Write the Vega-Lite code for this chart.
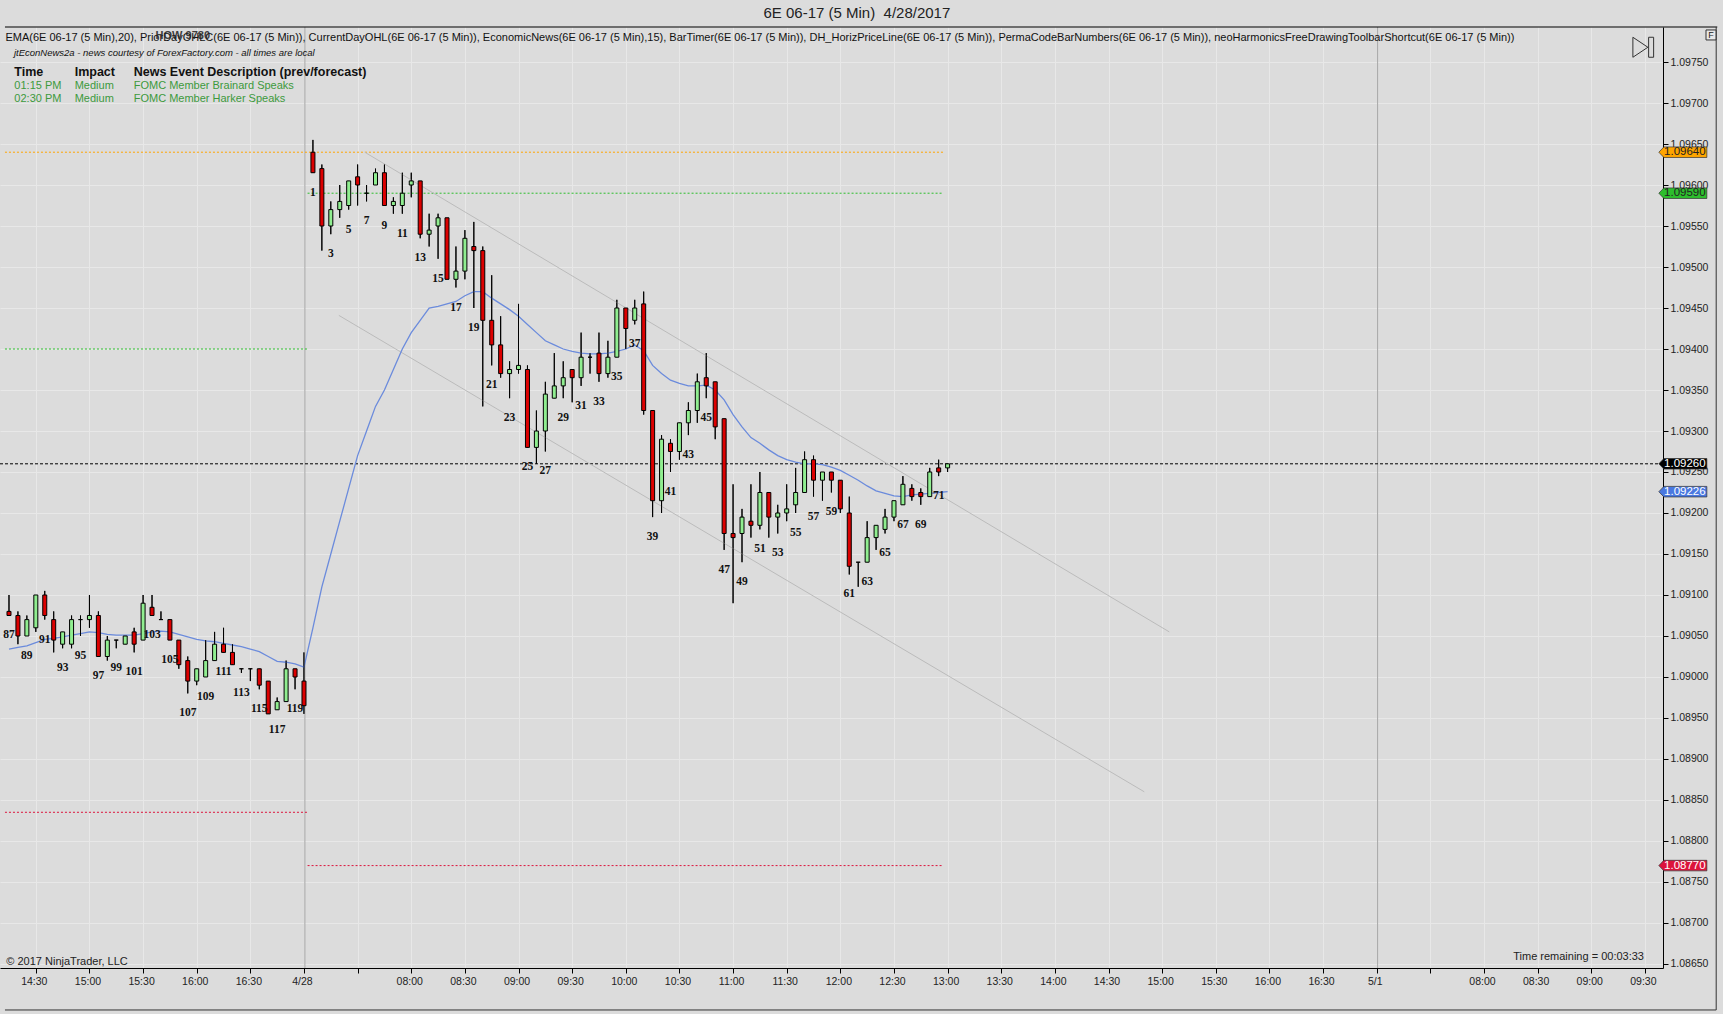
{
  "$schema": "https://vega.github.io/schema/vega-lite/v6.json",
  "width": 1663,
  "height": 941,
  "autosize": "none",
  "padding": {"left": 0, "top": 27, "right": 60, "bottom": 46},
  "background": "#DCDCDC",
  "datasets": {
    "bars": [
      {"n": 87, "s": -3, "o": 1.0908, "h": 1.091, "l": 1.09075, "c": 1.09075, "e": 1.09034},
      {"n": 88, "s": -2, "o": 1.09075, "h": 1.0908, "l": 1.0904, "c": 1.0905, "e": 1.09036},
      {"n": 89, "s": -1, "o": 1.0905, "h": 1.09075, "l": 1.0905, "c": 1.0907, "e": 1.09038},
      {"n": 90, "s": 0, "o": 1.0906, "h": 1.091, "l": 1.09055, "c": 1.091, "e": 1.09042},
      {"n": 91, "s": 1, "o": 1.091, "h": 1.09105, "l": 1.0907, "c": 1.09075, "e": 1.09046},
      {"n": 92, "s": 2, "o": 1.0907, "h": 1.0908, "l": 1.0903, "c": 1.09045, "e": 1.09047},
      {"n": 93, "s": 3, "o": 1.0904, "h": 1.09055, "l": 1.09035, "c": 1.09055, "e": 1.09049},
      {"n": 94, "s": 4, "o": 1.0904, "h": 1.09075, "l": 1.09035, "c": 1.0907, "e": 1.09051},
      {"n": 95, "s": 5, "o": 1.0907, "h": 1.09075, "l": 1.0905, "c": 1.0907, "e": 1.09053},
      {"n": 96, "s": 6, "o": 1.0907, "h": 1.091, "l": 1.0906, "c": 1.09075, "e": 1.09055},
      {"n": 97, "s": 7, "o": 1.09075, "h": 1.0908, "l": 1.09025, "c": 1.09025, "e": 1.09054},
      {"n": 98, "s": 8, "o": 1.09025, "h": 1.0905, "l": 1.0902, "c": 1.09045, "e": 1.09052},
      {"n": 99, "s": 9, "o": 1.09045, "h": 1.09045, "l": 1.09035, "c": 1.09045, "e": 1.09051},
      {"n": 100, "s": 10, "o": 1.0904, "h": 1.0905, "l": 1.0904, "c": 1.0905, "e": 1.09051},
      {"n": 101, "s": 11, "o": 1.09055, "h": 1.0906, "l": 1.0903, "c": 1.0904, "e": 1.09051},
      {"n": 102, "s": 12, "o": 1.09045, "h": 1.091, "l": 1.09045, "c": 1.0909, "e": 1.09053},
      {"n": 103, "s": 13, "o": 1.09085, "h": 1.091, "l": 1.09075, "c": 1.09075, "e": 1.09055},
      {"n": 104, "s": 14, "o": 1.0907, "h": 1.0908, "l": 1.0907, "c": 1.0907, "e": 1.09056},
      {"n": 105, "s": 15, "o": 1.0907, "h": 1.0907, "l": 1.09045, "c": 1.09045, "e": 1.09055},
      {"n": 106, "s": 16, "o": 1.09045, "h": 1.09045, "l": 1.0901, "c": 1.09015, "e": 1.09052},
      {"n": 107, "s": 17, "o": 1.0902, "h": 1.09025, "l": 1.0898, "c": 1.08995, "e": 1.09049},
      {"n": 108, "s": 18, "o": 1.08995, "h": 1.0901, "l": 1.0899, "c": 1.0901, "e": 1.09046},
      {"n": 109, "s": 19, "o": 1.09, "h": 1.09045, "l": 1.09, "c": 1.0902, "e": 1.09044},
      {"n": 110, "s": 20, "o": 1.0902, "h": 1.09055, "l": 1.0902, "c": 1.0904, "e": 1.09043},
      {"n": 111, "s": 21, "o": 1.0904, "h": 1.0906, "l": 1.0903, "c": 1.0903, "e": 1.09041},
      {"n": 112, "s": 22, "o": 1.0903, "h": 1.0904, "l": 1.09015, "c": 1.09015, "e": 1.09039},
      {"n": 113, "s": 23, "o": 1.0901, "h": 1.0901, "l": 1.09005, "c": 1.0901, "e": 1.09037},
      {"n": 114, "s": 24, "o": 1.0901, "h": 1.0901, "l": 1.08995, "c": 1.0901, "e": 1.09034},
      {"n": 115, "s": 25, "o": 1.0901, "h": 1.0901, "l": 1.08985, "c": 1.0899, "e": 1.09031},
      {"n": 116, "s": 26, "o": 1.08995, "h": 1.08995, "l": 1.08955, "c": 1.08955, "e": 1.09025},
      {"n": 117, "s": 27, "o": 1.0896, "h": 1.08975, "l": 1.0896, "c": 1.0897, "e": 1.09019},
      {"n": 118, "s": 28, "o": 1.0897, "h": 1.0902, "l": 1.0897, "c": 1.0901, "e": 1.09018},
      {"n": 119, "s": 29, "o": 1.0901, "h": 1.0901, "l": 1.08985, "c": 1.09, "e": 1.09016},
      {"n": 120, "s": 30, "o": 1.08995, "h": 1.0903, "l": 1.08955, "c": 1.08965, "e": 1.09012},
      {"n": 1, "s": 31, "o": 1.0964, "h": 1.09655, "l": 1.09615, "c": 1.09615, "e": 1.0906},
      {"n": 2, "s": 32, "o": 1.0962, "h": 1.09625, "l": 1.0952, "c": 1.0955, "e": 1.0911},
      {"n": 3, "s": 33, "o": 1.0955, "h": 1.0958, "l": 1.0954, "c": 1.0957, "e": 1.0915},
      {"n": 4, "s": 34, "o": 1.0957, "h": 1.096, "l": 1.0956, "c": 1.0958, "e": 1.0919},
      {"n": 5, "s": 35, "o": 1.09575, "h": 1.09605, "l": 1.0957, "c": 1.09605, "e": 1.0923},
      {"n": 6, "s": 36, "o": 1.0961, "h": 1.09625, "l": 1.09575, "c": 1.096, "e": 1.0927},
      {"n": 7, "s": 37, "o": 1.0959, "h": 1.096, "l": 1.0958, "c": 1.0959, "e": 1.093},
      {"n": 8, "s": 38, "o": 1.096, "h": 1.0962, "l": 1.096, "c": 1.09615, "e": 1.0933},
      {"n": 9, "s": 39, "o": 1.09615, "h": 1.09625, "l": 1.09575, "c": 1.09575, "e": 1.0935},
      {"n": 10, "s": 40, "o": 1.09575, "h": 1.09585, "l": 1.09565, "c": 1.0958, "e": 1.09375},
      {"n": 11, "s": 41, "o": 1.09575, "h": 1.09615, "l": 1.09565, "c": 1.0959, "e": 1.094},
      {"n": 12, "s": 42, "o": 1.096, "h": 1.09615, "l": 1.09585, "c": 1.09605, "e": 1.0942},
      {"n": 13, "s": 43, "o": 1.09605, "h": 1.09605, "l": 1.09535, "c": 1.0954, "e": 1.09435},
      {"n": 14, "s": 44, "o": 1.0954, "h": 1.09565, "l": 1.09525, "c": 1.09545, "e": 1.0945},
      {"n": 15, "s": 45, "o": 1.0955, "h": 1.09565, "l": 1.0951, "c": 1.0956, "e": 1.09452},
      {"n": 16, "s": 46, "o": 1.0956, "h": 1.0956, "l": 1.09485, "c": 1.09485, "e": 1.09455},
      {"n": 17, "s": 47, "o": 1.09485, "h": 1.09525, "l": 1.09475, "c": 1.09495, "e": 1.09458},
      {"n": 18, "s": 48, "o": 1.09495, "h": 1.09545, "l": 1.09485, "c": 1.09535, "e": 1.09465},
      {"n": 19, "s": 49, "o": 1.09525, "h": 1.09555, "l": 1.0945, "c": 1.0952, "e": 1.0947},
      {"n": 20, "s": 50, "o": 1.0952, "h": 1.09525, "l": 1.0933, "c": 1.09435, "e": 1.0947},
      {"n": 21, "s": 51, "o": 1.09435, "h": 1.0949, "l": 1.0938, "c": 1.09405, "e": 1.09462},
      {"n": 22, "s": 52, "o": 1.09405, "h": 1.0944, "l": 1.09365, "c": 1.0937, "e": 1.09455},
      {"n": 23, "s": 53, "o": 1.0937, "h": 1.09385, "l": 1.0934, "c": 1.09375, "e": 1.09448},
      {"n": 24, "s": 54, "o": 1.09375, "h": 1.09455, "l": 1.0937, "c": 1.0938, "e": 1.0944},
      {"n": 25, "s": 55, "o": 1.09375, "h": 1.0938, "l": 1.0928, "c": 1.0928, "e": 1.0943},
      {"n": 26, "s": 56, "o": 1.0928, "h": 1.09325, "l": 1.0926, "c": 1.093, "e": 1.0942},
      {"n": 27, "s": 57, "o": 1.093, "h": 1.0936, "l": 1.09275, "c": 1.09345, "e": 1.0941},
      {"n": 28, "s": 58, "o": 1.0934, "h": 1.09395, "l": 1.0934, "c": 1.09355, "e": 1.09405},
      {"n": 29, "s": 59, "o": 1.09355, "h": 1.09385, "l": 1.0934, "c": 1.09365, "e": 1.094},
      {"n": 30, "s": 60, "o": 1.09375, "h": 1.09375, "l": 1.09335, "c": 1.09365, "e": 1.09397},
      {"n": 31, "s": 61, "o": 1.09365, "h": 1.0942, "l": 1.09355, "c": 1.0939, "e": 1.09395},
      {"n": 32, "s": 62, "o": 1.0939, "h": 1.09395, "l": 1.0937, "c": 1.0939, "e": 1.09394},
      {"n": 33, "s": 63, "o": 1.09395, "h": 1.0942, "l": 1.0936, "c": 1.0937, "e": 1.09394},
      {"n": 34, "s": 64, "o": 1.0937, "h": 1.0941, "l": 1.09365, "c": 1.0939, "e": 1.09395},
      {"n": 35, "s": 65, "o": 1.0939, "h": 1.0946, "l": 1.0939, "c": 1.0945, "e": 1.09397},
      {"n": 36, "s": 66, "o": 1.0945, "h": 1.0945, "l": 1.094, "c": 1.09425, "e": 1.094},
      {"n": 37, "s": 67, "o": 1.09435, "h": 1.0946, "l": 1.0943, "c": 1.0945, "e": 1.09405},
      {"n": 38, "s": 68, "o": 1.09455, "h": 1.0947, "l": 1.0932, "c": 1.09325, "e": 1.09398},
      {"n": 39, "s": 69, "o": 1.09325, "h": 1.09325, "l": 1.09195, "c": 1.09215, "e": 1.0938},
      {"n": 40, "s": 70, "o": 1.09215, "h": 1.09295, "l": 1.092, "c": 1.0929, "e": 1.0937},
      {"n": 41, "s": 71, "o": 1.09285, "h": 1.0929, "l": 1.0925, "c": 1.09275, "e": 1.09362},
      {"n": 42, "s": 72, "o": 1.09275, "h": 1.0931, "l": 1.09265, "c": 1.0931, "e": 1.09358},
      {"n": 43, "s": 73, "o": 1.0931, "h": 1.09335, "l": 1.09295, "c": 1.09325, "e": 1.09355},
      {"n": 44, "s": 74, "o": 1.09325, "h": 1.0937, "l": 1.0931, "c": 1.0936, "e": 1.09355},
      {"n": 45, "s": 75, "o": 1.09365, "h": 1.09395, "l": 1.0934, "c": 1.09355, "e": 1.09356},
      {"n": 46, "s": 76, "o": 1.0936, "h": 1.0936, "l": 1.0929, "c": 1.09305, "e": 1.0935},
      {"n": 47, "s": 77, "o": 1.09315, "h": 1.09315, "l": 1.09155, "c": 1.09175, "e": 1.09338},
      {"n": 48, "s": 78, "o": 1.09175, "h": 1.09235, "l": 1.0909, "c": 1.0917, "e": 1.0932},
      {"n": 49, "s": 79, "o": 1.09175, "h": 1.09205, "l": 1.0914, "c": 1.09195, "e": 1.09305},
      {"n": 50, "s": 80, "o": 1.0919, "h": 1.09235, "l": 1.0917, "c": 1.09185, "e": 1.09292},
      {"n": 51, "s": 81, "o": 1.09185, "h": 1.0925, "l": 1.0918, "c": 1.09225, "e": 1.09285},
      {"n": 52, "s": 82, "o": 1.09225, "h": 1.09225, "l": 1.0917, "c": 1.09195, "e": 1.09277},
      {"n": 53, "s": 83, "o": 1.09195, "h": 1.0921, "l": 1.09175, "c": 1.092, "e": 1.0927},
      {"n": 54, "s": 84, "o": 1.092, "h": 1.09235, "l": 1.0919, "c": 1.09205, "e": 1.09265},
      {"n": 55, "s": 85, "o": 1.0921, "h": 1.09255, "l": 1.092, "c": 1.09225, "e": 1.09262},
      {"n": 56, "s": 86, "o": 1.09225, "h": 1.09275, "l": 1.09225, "c": 1.09265, "e": 1.0926},
      {"n": 57, "s": 87, "o": 1.09265, "h": 1.0927, "l": 1.0922, "c": 1.0924, "e": 1.0926},
      {"n": 58, "s": 88, "o": 1.0924, "h": 1.0925, "l": 1.09215, "c": 1.0925, "e": 1.09259},
      {"n": 59, "s": 89, "o": 1.0925, "h": 1.0925, "l": 1.09225, "c": 1.0924, "e": 1.09256},
      {"n": 60, "s": 90, "o": 1.0924, "h": 1.0924, "l": 1.092, "c": 1.09205, "e": 1.09252},
      {"n": 61, "s": 91, "o": 1.092, "h": 1.0922, "l": 1.09125, "c": 1.09135, "e": 1.09246},
      {"n": 62, "s": 92, "o": 1.0914, "h": 1.0914, "l": 1.0911, "c": 1.0914, "e": 1.0924},
      {"n": 63, "s": 93, "o": 1.0914, "h": 1.0919, "l": 1.0914, "c": 1.0917, "e": 1.09233},
      {"n": 64, "s": 94, "o": 1.0917, "h": 1.09185, "l": 1.09155, "c": 1.09185, "e": 1.09227},
      {"n": 65, "s": 95, "o": 1.0918, "h": 1.09205, "l": 1.09175, "c": 1.09195, "e": 1.09224},
      {"n": 66, "s": 96, "o": 1.09195, "h": 1.09215, "l": 1.0919, "c": 1.09215, "e": 1.09221},
      {"n": 67, "s": 97, "o": 1.0921, "h": 1.09245, "l": 1.0921, "c": 1.09235, "e": 1.0922},
      {"n": 68, "s": 98, "o": 1.0923, "h": 1.09235, "l": 1.09215, "c": 1.0922, "e": 1.09222},
      {"n": 69, "s": 99, "o": 1.09225, "h": 1.0923, "l": 1.0921, "c": 1.0922, "e": 1.09223},
      {"n": 70, "s": 100, "o": 1.0922, "h": 1.09255, "l": 1.0922, "c": 1.0925, "e": 1.09224},
      {"n": 71, "s": 101, "o": 1.09255, "h": 1.09265, "l": 1.09245, "c": 1.0925, "e": 1.09225},
      {"n": 72, "s": 102, "o": 1.09255, "h": 1.0926, "l": 1.0925, "c": 1.0926, "e": 1.09226}
    ],
    "levels": [
      {"tag": "high", "p": 1.0964, "s1": -3.45, "s2": 101.5},
      {"tag": "open", "p": 1.0959, "s1": 30.4, "s2": 101.5},
      {"tag": "low", "p": 1.0877, "s1": 30.4, "s2": 101.5},
      {"tag": "prior_close", "p": 1.094, "s1": -3.45, "s2": 30.4},
      {"tag": "prior_low", "p": 1.08835, "s1": -3.45, "s2": 30.4}
    ],
    "tags": [
      {"tag": "high", "p": 1.0964},
      {"tag": "open", "p": 1.0959},
      {"tag": "last", "p": 1.0926},
      {"tag": "ema", "p": 1.09226},
      {"tag": "low", "p": 1.0877}
    ],
    "channel": [
      {"id": "upper", "s": 36.8, "p": 1.0964},
      {"id": "upper", "s": 126.8, "p": 1.09055},
      {"id": "lower", "s": 33.9, "p": 1.09441},
      {"id": "lower", "s": 124.0, "p": 1.0886}
    ],
    "sessions": [{"s": 30.1}, {"s": 150.1}],
    "news": [
      {"row": 1, "time": "01:15 PM", "impact": "Medium", "event": "FOMC Member Brainard Speaks"},
      {"row": 2, "time": "02:30 PM", "impact": "Medium", "event": "FOMC Member Harker Speaks"}
    ]
  },
  "layer": [
    {
      "data": {"name": "bars"},
      "mark": {"type": "rule", "color": "#000000", "strokeWidth": 1},
      "encoding": {
        "x": {
          "field": "s", "type": "quantitative",
          "scale": {"domain": [-3.447, 181.47], "nice": false, "zero": false},
          "axis": {
            "title": null,
            "values": [0, 6, 12, 18, 24, 30, 36, 42, 48, 54, 60, 66, 72, 78, 84, 90, 96, 102, 108, 114, 120, 126, 132, 138, 144, 150, 156, 162, 168, 174, 180],
            "labelExpr": "['14:30','15:00','15:30','16:00','16:30','4/28','','08:00','08:30','09:00','09:30','10:00','10:30','11:00','11:30','12:00','12:30','13:00','13:30','14:00','14:30','15:00','15:30','16:00','16:30','5/1','','08:00','08:30','09:00','09:30'][round(datum.value / 6)]",
            "tickSize": 5, "labelPadding": 3, "labelFlush": false, "labelOverlap": false, "labelOffset": -2,
            "grid": true, "gridColor": "#E8E8E8", "domain": true, "domainColor": "#000000", "tickColor": "#000000",
            "labelFont": "Liberation Sans", "labelFontSize": 10.5, "labelColor": "#222222"
          }
        },
        "y": {
          "field": "l", "type": "quantitative",
          "scale": {"domain": [1.086451, 1.097927], "nice": false, "zero": false},
          "axis": {
            "title": null,
            "orient": "right",
            "values": [1.0865, 1.087, 1.0875, 1.088, 1.0885, 1.089, 1.0895, 1.09, 1.0905, 1.091, 1.0915, 1.092, 1.0925, 1.093, 1.0935, 1.094, 1.0945, 1.095, 1.0955, 1.096, 1.0965, 1.097, 1.0975],
            "format": ".5f", "tickSize": 5, "labelPadding": 2,
            "grid": true, "gridColor": "#E8E8E8", "domain": true, "domainColor": "#000000", "tickColor": "#000000",
            "labelFont": "Liberation Sans", "labelFontSize": 10.5, "labelColor": "#222222"
          }
        },
        "y2": {"field": "h"}
      }
    },
    {
      "data": {"name": "sessions"},
      "mark": {"type": "rule", "color": "#A6A6A6", "strokeWidth": 1},
      "encoding": {
        "x": {"field": "s", "type": "quantitative"}
      }
    },
    {
      "data": {"name": "levels"},
      "mark": {"type": "rule", "strokeDash": [2, 2], "strokeWidth": 1},
      "encoding": {
        "x": {"field": "s1", "type": "quantitative"},
        "x2": {"field": "s2"},
        "y": {"field": "p", "type": "quantitative"},
        "color": {"field": "tag", "type": "nominal", "legend": null, "scale": {"domain": ["high", "open", "low", "prior_close", "prior_low", "last", "ema"], "range": ["#FFA500", "#2DBE2D", "#DC143C", "#2DBE2D", "#DC143C", "#000000", "#4A78E0"]}}
      }
    },
    {
      "data": {"values": [{}]},
      "mark": {"type": "rule", "color": "#000000", "strokeDash": [3, 2], "strokeWidth": 1},
      "encoding": {
        "y": {"datum": 1.0926, "type": "quantitative"}
      }
    },
    {
      "data": {"name": "channel"},
      "mark": {"type": "line", "color": "#BBBBBB", "strokeWidth": 1},
      "encoding": {
        "x": {"field": "s", "type": "quantitative"},
        "y": {"field": "p", "type": "quantitative"},
        "detail": {"field": "id"}
      }
    },
    {
      "data": {"name": "bars"},
      "mark": {"type": "line", "color": "#6B8BDC", "strokeWidth": 1.3},
      "encoding": {
        "x": {"field": "s", "type": "quantitative"},
        "y": {"field": "e", "type": "quantitative"}
      }
    },
    {
      "data": {"name": "bars"},
      "mark": {"type": "rule", "color": "#000000", "strokeWidth": 1},
      "encoding": {
        "x": {"field": "s", "type": "quantitative"},
        "y": {"field": "l", "type": "quantitative"},
        "y2": {"field": "h"}
      }
    },
    {
      "data": {"name": "bars"},
      "mark": {"type": "bar", "width": 4, "stroke": "#000000", "strokeWidth": 1},
      "encoding": {
        "x": {"field": "s", "type": "quantitative"},
        "y": {"field": "o", "type": "quantitative"},
        "y2": {"field": "c"},
        "color": {"condition": {"test": "datum.c < datum.o", "value": "#DC0000"}, "value": "#90EE90"}
      }
    },
    {
      "data": {"name": "bars"},
      "transform": [{"filter": "datum.n % 2 == 1"}],
      "mark": {"type": "text", "font": "Liberation Serif", "fontWeight": "bold", "fontSize": 11.5, "align": "center", "baseline": "middle", "dy": 20, "color": "#111111"},
      "encoding": {
        "x": {"field": "s", "type": "quantitative"},
        "y": {"field": "l", "type": "quantitative"},
        "text": {"field": "n", "type": "nominal"}
      }
    },
    {
      "data": {"name": "tags"},
      "mark": {"type": "point", "shape": "M-1,0L-0.79,-0.22L1,-0.22L1,0.22L-0.79,0.22Z", "size": 2304, "filled": true, "opacity": 1, "stroke": "#333333", "strokeWidth": 0.7},
      "encoding": {
        "x": {"datum": 184.25, "type": "quantitative"},
        "y": {"field": "p", "type": "quantitative"},
        "color": {"field": "tag", "type": "nominal", "legend": null, "scale": {"domain": ["high", "open", "low", "prior_close", "prior_low", "last", "ema"], "range": ["#FFA500", "#2DBE2D", "#DC143C", "#2DBE2D", "#DC143C", "#000000", "#4A78E0"]}}
      }
    },
    {
      "data": {"name": "tags"},
      "mark": {"type": "text", "font": "Liberation Sans", "fontSize": 11.5, "align": "center", "baseline": "middle", "dx": 2},
      "encoding": {
        "x": {"datum": 184.25, "type": "quantitative"},
        "y": {"field": "p", "type": "quantitative"},
        "text": {"field": "p", "type": "quantitative", "format": ".5f"},
        "color": {"condition": {"test": "datum.tag == 'high' || datum.tag == 'open'", "value": "#222222"}, "value": "#FFFFFF"}
      }
    },
    {
      "data": {"values": [{}]},
      "mark": {"type": "rule", "color": "#000000", "strokeWidth": 1},
      "encoding": {
        "x": {"datum": -3.45, "type": "quantitative"},
        "x2": {"datum": 188.1},
        "y": {"datum": 1.097927, "type": "quantitative"}
      }
    },
    {
      "data": {"values": [{}]},
      "mark": {"type": "rule", "color": "#333333", "strokeWidth": 1},
      "encoding": {
        "x": {"datum": -3.45, "type": "quantitative"},
        "x2": {"datum": 187.98},
        "y": {"datum": 1.085939, "type": "quantitative"}
      }
    },
    {
      "data": {"values": [{}]},
      "mark": {"type": "rule", "color": "#333333", "strokeWidth": 1},
      "encoding": {
        "x": {"datum": 187.98, "type": "quantitative"},
        "y": {"datum": 1.097927, "type": "quantitative"},
        "y2": {"datum": 1.085939}
      }
    },
    {
      "data": {"values": [{}]},
      "mark": {"type": "text", "font": "Liberation Sans", "fontSize": 15, "align": "center", "baseline": "middle", "color": "#222222"},
      "encoding": {
        "x": {"datum": 91.85, "type": "quantitative"},
        "y": {"datum": 1.0981, "type": "quantitative"},
        "text": {"value": "6E 06-17 (5 Min)\u00a0\u00a04/28/2017"}
      }
    },
    {
      "data": {"values": [{}]},
      "mark": {"type": "text", "font": "Liberation Sans", "fontSize": 11, "align": "left", "baseline": "middle", "color": "#111111"},
      "encoding": {
        "x": {"datum": -3.4, "type": "quantitative"},
        "y": {"datum": 1.09779, "type": "quantitative"},
        "text": {"value": "EMA(6E 06-17 (5 Min),20), PriorDayOHLC(6E 06-17 (5 Min)), CurrentDayOHL(6E 06-17 (5 Min)), EconomicNews(6E 06-17 (5 Min),15), BarTimer(6E 06-17 (5 Min)), DH_HorizPriceLine(6E 06-17 (5 Min)), PermaCodeBarNumbers(6E 06-17 (5 Min)), neoHarmonicsFreeDrawingToolbarShortcut(6E 06-17 (5 Min))"}
      }
    },
    {
      "data": {"values": [{}]},
      "mark": {"type": "text", "font": "Liberation Sans", "fontSize": 11, "fontWeight": "bold", "align": "left", "baseline": "middle", "color": "#222222", "opacity": 0.85},
      "encoding": {
        "x": {"datum": 13.4, "type": "quantitative"},
        "y": {"datum": 1.09782, "type": "quantitative"},
        "text": {"value": "HOW 9780"}
      }
    },
    {
      "data": {"values": [{}]},
      "mark": {"type": "text", "font": "Liberation Sans", "fontSize": 9.5, "fontStyle": "italic", "align": "left", "baseline": "middle", "color": "#111111"},
      "encoding": {
        "x": {"datum": -2.45, "type": "quantitative"},
        "y": {"datum": 1.09761, "type": "quantitative"},
        "text": {"value": "jtEconNews2a - news courtesy of ForexFactory.com - all times are local"}
      }
    },
    {
      "data": {"values": [{"col": "Time", "x": -2.4}, {"col": "Impact", "x": 4.35}, {"col": "News Event Description (prev/forecast)", "x": 10.95}]},
      "mark": {"type": "text", "font": "Liberation Sans", "fontSize": 12.5, "fontWeight": "bold", "align": "left", "baseline": "middle", "color": "#111111"},
      "encoding": {
        "x": {"field": "x", "type": "quantitative"},
        "y": {"datum": 1.09738, "type": "quantitative"},
        "text": {"field": "col"}
      }
    },
    {
      "data": {"name": "news"},
      "mark": {"type": "text", "font": "Liberation Sans", "fontSize": 11, "align": "left", "baseline": "middle", "color": "#3C9A3C"},
      "encoding": {
        "x": {"datum": -2.4, "type": "quantitative"},
        "y": {"datum": 1.09721, "type": "quantitative"},
        "yOffset": {"field": "row", "type": "quantitative", "scale": {"domain": [1, 2], "range": [0, 13.6]}},
        "text": {"field": "time"}
      }
    },
    {
      "data": {"name": "news"},
      "mark": {"type": "text", "font": "Liberation Sans", "fontSize": 11, "align": "left", "baseline": "middle", "color": "#3C9A3C"},
      "encoding": {
        "x": {"datum": 4.35, "type": "quantitative"},
        "y": {"datum": 1.09721, "type": "quantitative"},
        "yOffset": {"field": "row", "type": "quantitative", "scale": {"domain": [1, 2], "range": [0, 13.6]}},
        "text": {"field": "impact"}
      }
    },
    {
      "data": {"name": "news"},
      "mark": {"type": "text", "font": "Liberation Sans", "fontSize": 11, "align": "left", "baseline": "middle", "color": "#3C9A3C"},
      "encoding": {
        "x": {"datum": 10.95, "type": "quantitative"},
        "y": {"datum": 1.09721, "type": "quantitative"},
        "yOffset": {"field": "row", "type": "quantitative", "scale": {"domain": [1, 2], "range": [0, 13.6]}},
        "text": {"field": "event"}
      }
    },
    {
      "data": {"values": [{}]},
      "mark": {"type": "text", "font": "Liberation Sans", "fontSize": 11, "align": "left", "baseline": "middle", "color": "#222222"},
      "encoding": {
        "x": {"datum": -3.3, "type": "quantitative"},
        "y": {"datum": 1.08652, "type": "quantitative"},
        "text": {"value": "© 2017 NinjaTrader, LLC"}
      }
    },
    {
      "data": {"values": [{}]},
      "mark": {"type": "text", "font": "Liberation Sans", "fontSize": 11, "align": "right", "baseline": "middle", "color": "#222222"},
      "encoding": {
        "x": {"datum": 179.9, "type": "quantitative"},
        "y": {"datum": 1.08658, "type": "quantitative"},
        "text": {"value": "Time remaining = 00:03:33"}
      }
    },
    {
      "data": {"values": [{}]},
      "mark": {"type": "point", "shape": "M-0.75,-1L0.75,0L-0.75,1Z", "size": 400, "filled": true, "fill": "#DCDCDC", "stroke": "#333333", "strokeWidth": 1, "opacity": 1},
      "encoding": {
        "x": {"datum": 179.5, "type": "quantitative"},
        "y": {"datum": 1.09768, "type": "quantitative"}
      }
    },
    {
      "data": {"values": [{}]},
      "mark": {"type": "point", "shape": "M-0.25,-1H0.25V1H-0.25Z", "size": 400, "filled": true, "fill": "#DCDCDC", "stroke": "#333333", "strokeWidth": 1, "opacity": 1},
      "encoding": {
        "x": {"datum": 180.7, "type": "quantitative"},
        "y": {"datum": 1.09768, "type": "quantitative"}
      }
    },
    {
      "data": {"values": [{}]},
      "mark": {"type": "point", "shape": "square", "size": 100, "filled": true, "fill": "#E8E8E8", "stroke": "#333333", "strokeWidth": 1, "opacity": 1},
      "encoding": {
        "x": {"datum": 187.4, "type": "quantitative"},
        "y": {"datum": 1.09783, "type": "quantitative"}
      }
    },
    {
      "data": {"values": [{}]},
      "mark": {"type": "text", "font": "Liberation Sans", "fontSize": 9, "align": "center", "baseline": "middle", "color": "#222222"},
      "encoding": {
        "x": {"datum": 187.4, "type": "quantitative"},
        "y": {"datum": 1.09783, "type": "quantitative"},
        "text": {"value": "F"}
      }
    }
  ],
  "config": {
    "view": {"stroke": null}
  }
}
